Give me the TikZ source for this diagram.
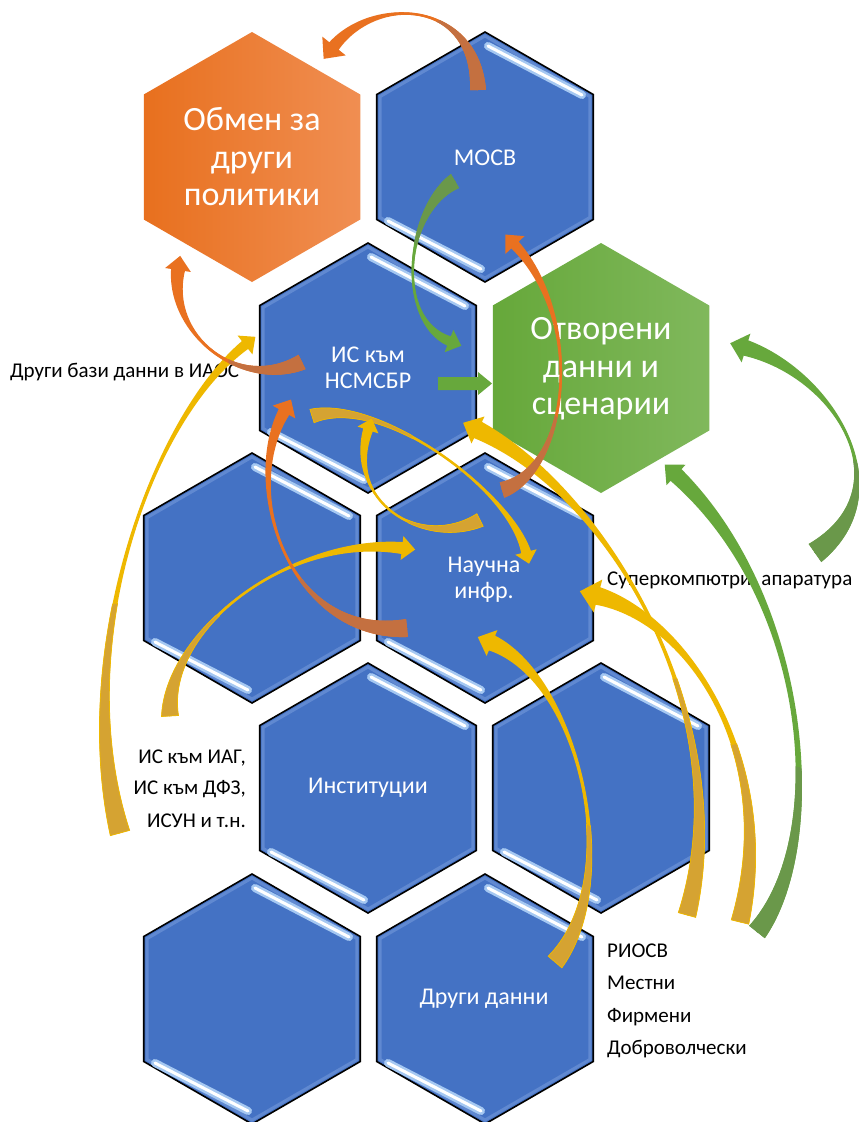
\documentclass[tikz,border=0pt]{standalone}
\usepackage{fontspec}
\setmainfont{Carlito}
\usetikzlibrary{calc}
\definecolor{hexblue}{RGB}{68,114,196}
\definecolor{hexinner}{RGB}{125,160,222}
\definecolor{stripeblue}{RGB}{165,200,242}
\definecolor{oraL}{RGB}{232,112,30}
\definecolor{oraR}{RGB}{240,142,82}
\definecolor{grnL}{RGB}{102,168,58}
\definecolor{grnR}{RGB}{128,184,92}
\definecolor{ora}{RGB}{233,113,32}
\definecolor{oratail}{RGB}{196,112,64}
\definecolor{grn}{RGB}{103,168,60}
\definecolor{grntail}{RGB}{106,152,74}
\definecolor{yel}{RGB}{238,184,0}
\definecolor{yeltail}{RGB}{213,163,50}
\tikzset{
  bigtxt/.style={text=white, align=center, font=\fontsize{34}{37.5}\selectfont, inner sep=0pt},
  smalltxt/.style={text=white, align=center, font=\fontsize{24}{26}\selectfont, inner sep=0pt},
  blacklbl/.style={text=black, font=\fontsize{21}{24}\selectfont, inner sep=0pt},
  orats/.style={},
  grnts/.style={},
  yelts/.style={draw=yel, line width=0.7pt},
}
% #1 colour, #2 tail, #3 ctrl1, #4 ctrl2, #5 head base, #6 tail half width, #7 head-base half width, #8 ctrl offset factor, #9 head half width
\newcommand{\ribarrow}[9]{%
  \coordinate (rP0) at (#2);
  \coordinate (rC1) at (#3);
  \coordinate (rC2) at (#4);
  \coordinate (rP3) at (#5);
  \coordinate (rA0) at ($(rP0)!#6pt!90:(rC1)$);
  \coordinate (rB0) at ($(rP0)!#6pt!-90:(rC1)$);
  \coordinate (rA3) at ($(rP3)!#7pt!-90:(rC2)$);
  \coordinate (rB3) at ($(rP3)!#7pt!90:(rC2)$);
  \coordinate (rA1) at ($(rC1)+#8*(rA0)-#8*(rP0)$);
  \coordinate (rB1) at ($(rC1)+#8*(rB0)-#8*(rP0)$);
  \coordinate (rA2) at ($(rC2)+#8*(rA3)-#8*(rP3)$);
  \coordinate (rB2) at ($(rC2)+#8*(rB3)-#8*(rP3)$);
  \coordinate (rT) at ($(rP3)!-1.1*#9pt!(rC2)$);
  \coordinate (rH1) at ($(rP3)!#9pt!-90:(rC2)$);
  \coordinate (rH2) at ($(rP3)!#9pt!90:(rC2)$);
  \fill[#1] (rA0) .. controls (rA1) and (rA2) .. (rA3) -- (rH1) -- (rT) -- (rH2) -- (rB3) .. controls (rB2) and (rB1) .. (rB0) -- cycle;
  \draw[#1, line width=2.4pt] (rP0) .. controls (rC1) and (rC2) .. (rP3);
  \coordinate (qA1) at ($0.6*(rA0)+0.4*(rA1)$);
  \coordinate (qA2) at ($0.36*(rA0)+0.48*(rA1)+0.16*(rA2)$);
  \coordinate (qA3) at ($0.216*(rA0)+0.432*(rA1)+0.288*(rA2)+0.064*(rA3)$);
  \coordinate (qB1) at ($0.6*(rB0)+0.4*(rB1)$);
  \coordinate (qB2) at ($0.36*(rB0)+0.48*(rB1)+0.16*(rB2)$);
  \coordinate (qB3) at ($0.216*(rB0)+0.432*(rB1)+0.288*(rB2)+0.064*(rB3)$);
  \coordinate (qC1) at ($0.6*(rP0)+0.4*(rC1)$);
  \coordinate (qC2) at ($0.36*(rP0)+0.48*(rC1)+0.16*(rC2)$);
  \coordinate (qC3) at ($0.216*(rP0)+0.432*(rC1)+0.288*(rC2)+0.064*(rP3)$);
  \draw[#1tail, line width=2.4pt] (rP0) .. controls (qC1) and (qC2) .. (qC3);
  \fill[#1tail, #1ts] (rA0) .. controls (qA1) and (qA2) .. (qA3) -- (qB3) .. controls (qB2) and (qB1) .. (rB0) -- cycle;
}
\newcommand{\hexoutline}[3]{(#1,#2-#3) -- (#1+0.866*#3,#2-0.5*#3) -- (#1+0.866*#3,#2+0.5*#3) -- (#1,#2+#3) -- (#1-0.866*#3,#2+0.5*#3) -- (#1-0.866*#3,#2-0.5*#3) -- cycle}
\newcommand{\bluehex}[2]{%
  \fill[hexblue] \hexoutline{#1}{#2}{125};
  \draw[hexinner, line width=3pt, opacity=0.5] \hexoutline{#1}{#2}{121};
  \draw[black, line width=1.6pt] \hexoutline{#1}{#2}{125};
  \draw[stripeblue, line width=8pt, line cap=round] (#1+3,#2-111) -- (#1+97,#2-62);
  \draw[white, line width=3pt, line cap=round] (#1+3,#2-111) -- (#1+97,#2-62);
  \draw[stripeblue, line width=8pt, line cap=round] (#1-97,#2+64) -- (#1-4,#2+112);
  \draw[white, line width=3pt, line cap=round] (#1-97,#2+64) -- (#1-4,#2+112);
}
\begin{document}
\begin{tikzpicture}[x=1pt,y=-1pt]
\fill[white] (0,0) rectangle (859,1122);
\useasboundingbox (0,0) rectangle (859,1122);
% hexagons
\shade[left color=oraL, right color=oraR] \hexoutline{252}{157}{125};
\bluehex{485}{157}
\bluehex{368}{368}
\shade[left color=grnL, right color=grnR] \hexoutline{601}{368}{125};
\bluehex{252}{578}
\bluehex{485}{578}
\bluehex{368}{788}
\bluehex{601}{788}
\bluehex{252}{999}
\bluehex{485}{999}
% hexagon texts
\node[bigtxt] (obmen) at (252,157) {Обмен за\\други\\политики};
\node[smalltxt] (mosv) at (485,158) {МОСВ};
\node[smalltxt] (nsmsbr) at (368,368) {ИС към\\НСМСБР};
\node[bigtxt] (open) at (601,369) {Отворени\\данни и\\сценарии};
\node[smalltxt] (nauchna) at (484,580) {Научна\\инфр.};
\node[smalltxt] (inst) at (368,788) {Институции};
\node[smalltxt] (drugi) at (484,999) {Други данни};
% outside labels
\node[blacklbl, anchor=base west] (lbldb) at (10,377) {Други бази данни в ИАОС};
\node[blacklbl, anchor=base west] (lblsc) at (607,585) {Суперкомпютри, апаратура};
\node[blacklbl, anchor=base east] (lis1) at (246,763) {ИС към ИАГ,};
\node[blacklbl, anchor=base east] (lis2) at (246,794) {ИС към ДФЗ,};
\node[blacklbl, anchor=base east] (lis3) at (246,827) {ИСУН и т.н.};
\node[blacklbl, anchor=base west] (lr1) at (607,957) {РИОСВ};
\node[blacklbl, anchor=base west] (lr2) at (607,989) {Местни};
\node[blacklbl, anchor=base west] (lr3) at (607,1022) {Фирмени};
\node[blacklbl, anchor=base west] (lr4) at (607,1054) {Доброволчески};
% straight green arrow
\fill[grn] (438,377) -- (478,377) -- (478,372) -- (492,383.5) -- (478,395) -- (478,390) -- (438,390) -- cycle;
% yellow arrows
\ribarrow{yel}{120,833}{70,650}{150,420}{245,345}{10}{5}{0.05}{12}
\ribarrow{yel}{170,716}{165,630}{290,535}{402,548}{8.5}{6}{0}{12}
\ribarrow{yel}{312,416}{380,395}{510,490}{526,552}{7}{5}{0}{11}
\ribarrow{yel}{480,520}{420,550}{345,500}{368,430}{7}{5}{0.1}{11}
\ribarrow{yel}{687,915}{740,720}{612,495}{478,430}{9}{9}{0}{15}
\ribarrow{yel}{740,922}{780,760}{690,620}{598,596}{9}{9}{0.2}{17}
\ribarrow{yel}{555,962}{625,880}{580,680}{492,643}{9}{8}{0.1}{14}
% orange arrows
\ribarrow{ora}{478,90}{476,0}{375,-5}{334,46}{8}{6}{0.3}{15}
\ribarrow{ora}{302,362}{240,392}{168,335}{178,270}{8}{7}{0.2}{13}
\ribarrow{ora}{407,628}{290,640}{240,490}{284,412}{9}{6}{0.2}{13}
\ribarrow{ora}{502,490}{570,470}{585,320}{515,245}{8}{5}{0.2}{13}
% green arrows
\ribarrow{grn}{455,181}{405,210}{395,320}{449,341}{8}{5}{0.2}{12}
\ribarrow{grn}{815,553}{905,490}{835,375}{746,348}{11}{8}{0.2}{15}
\ribarrow{grn}{757,932}{830,840}{810,600}{676,475}{10}{8}{0.2}{14}
\end{tikzpicture}
\end{document}
